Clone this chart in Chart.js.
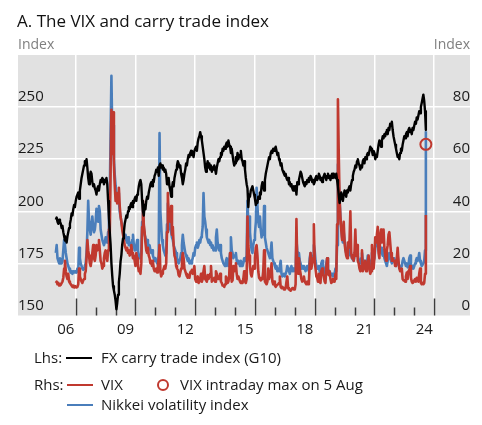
<!DOCTYPE html>
<html>
<head>
<meta charset="utf-8">
<script src="https://cdn.jsdelivr.net/npm/chart.js@4.4.1/dist/chart.umd.min.js"></script>
<style>
  html, body { margin: 0; padding: 0; background: #fff; }
  body { width: 482px; height: 425px; position: relative; overflow: hidden; font-family: "Open Sans", "Noto Sans", sans-serif; color: #1a1a1a; }
  #chart { position: absolute; left: 0; top: 0; }
  .txt { position: absolute; white-space: nowrap; line-height: normal; }
  #title { left: 17px; top: 9px; font-size: 17px; color: #111; }
  .unit { top: 34px; font-size: 14px; color: #7f7f7f; }
  #unitL { left: 18px; }
  #unitR { right: 12px; }
  .leg { font-size: 15px; }
  .swatch { position: absolute; height: 2px; }
  .ring { position: absolute; width: 8px; height: 8px; border: 2px solid #c0392f; border-radius: 50%; }
</style>
</head>
<body>
<canvas id="chart" width="482" height="425"></canvas>
<div id="title" class="txt">A. The VIX and carry trade index</div>
<div id="unitL" class="txt unit">Index</div>
<div id="unitR" class="txt unit">Index</div>

<div class="txt leg" style="left:34px; top:347px;">Lhs:</div>
<div class="swatch" style="left:66px; top:357px; width:26px; background:#000;"></div>
<div class="txt leg" style="left:101px; top:347px;">FX carry trade index (G10)</div>

<div class="txt leg" style="left:34px; top:374px;">Rhs:</div>
<div class="swatch" style="left:67px; top:384px; width:26px; background:#c0392f;"></div>
<div class="txt leg" style="left:101px; top:374px;">VIX</div>
<div class="ring" style="left:157px; top:379px;"></div>
<div class="txt leg" style="left:180px; top:374px;">VIX intraday max on 5 Aug</div>

<div class="swatch" style="left:67px; top:404px; width:26px; background:#4a7ebb;"></div>
<div class="txt leg" style="left:101px; top:394px;">Nikkei volatility index</div>

<script>
const RED = '#c0392f';
const BLUE = '#4a7ebb';
const FONT = '"Open Sans", "Noto Sans", sans-serif';

// two observations per month, first one in Jan 2006, last one on 5 Aug 2024
const startYear = 2006;
const perYear = 24;

// FX carry trade index (G10), lhs
const carryIndex = [
  196,197,195,194,196,195,194,192,193,190,188,186,187,185,188,190,192,194,196,199,198,201,203,202, // 2006
  205,207,208,209,206,210,213,216,218,220,222,224,223,225,221,216,213,217,219,218,214,212,213,211, // 2007
  210,208,211,212,210,213,215,214,216,215,213,215,214,216,213,205,197,190,184,175,169,164,162,160, // 2008
  157,153,156,160,166,170,176,179,184,187,190,194,196,198,197,200,202,201,203,204,202,205,204,206, // 2009
  207,205,208,209,212,214,215,213,205,200,198,203,201,205,207,206,209,211,213,214,212,215,214,217, // 2010
  218,220,219,221,217,222,223,221,222,220,221,219,220,218,213,214,216,212,210,207,211,214,212,216, // 2011
  218,220,222,224,223,221,222,218,216,213,215,218,220,223,222,225,227,226,228,229,227,228,226,229, // 2012
  230,231,229,233,235,236,238,236,234,231,228,225,221,219,222,224,221,223,220,222,219,221,220,222, // 2013
  220,218,221,223,225,224,226,228,227,230,229,231,230,232,233,231,234,232,231,228,230,227,224,222, // 2014
  223,226,224,228,225,227,226,229,225,224,222,224,220,216,213,211,202,208,207,210,211,212,210,208, // 2015
  206,203,205,204,207,206,209,208,212,214,212,210,215,218,220,222,224,226,225,228,229,228,230,229, // 2016
  230,231,229,227,228,225,224,222,223,220,219,218,217,218,216,215,216,213,214,212,213,211,210,212, // 2017
  210,212,208,214,213,215,217,219,218,216,214,213,212,214,213,215,214,216,215,217,216,214,215,213, // 2018
  214,216,217,215,216,218,217,215,216,214,216,217,218,216,215,217,218,216,217,215,217,218,216,218, // 2019
  217,216,218,215,212,208,204,206,209,207,205,208,210,209,207,210,209,211,212,210,213,215,217,219, // 2020
  220,222,221,224,225,223,222,220,222,221,224,225,223,226,225,227,228,227,229,231,230,229,227,229, // 2021
  228,225,227,226,229,232,234,233,231,234,236,235,237,236,238,239,237,240,239,242,241,243,239,236, // 2022
  234,232,230,228,226,227,225,228,230,229,232,234,236,235,237,238,236,239,240,238,239,237,240,239, // 2023
  241,243,242,245,244,246,248,247,250,252,254,256,253,248,239                                      // 2024
];

// VIX, rhs
const vix = [
  12.5,13,12,12.5,11.5,12,11.8,12.5,13,14.5,18,21,17,15,14,16,13,12.5,12,11.5,11,11.5,10.8,11.3, // 2006
  11,10.8,11,12,18,15,14,13,12.5,13.5,14,16,17,22,29,25,23,20,19,21,24,27,22,21,                  // 2007
  23,27,25,26,29,25,21,20,18,19,22,24,25,22,21,25,33,31,55,79,62,78,58,50,                        // 2008
  44,47,43,46,49,42,38,36,33,31,29,27,26,25,26,24,25,23,24,27,24,22,23,21,                        // 2009
  19,24,22,19,17,17.5,16,20,34,44,35,32,28,25,24,26,23,22,20,21,19,21,18,17,                      // 2010
  17,18,16.5,19,22,27,17,15,16,17,18,19,18,20,32,47,38,41,36,42,31,34,27,23,                      // 2011
  22,19,18,17.5,15.5,15,16.5,18,21,24,22,18,17,16,15,14.5,15.5,14.5,16.5,17,17.5,16,17,19,        // 2012
  14,13,13.5,15,12.5,13,14,16,13,14,17,19,14,13.5,13,15.5,14,15,16,19,13,13.5,13.8,14.5,          // 2013
  13,17,16,14,15,14,16,13,12.5,11.5,11.5,11,12,15,14,12.5,13,15.5,24,16,13,13.5,19,17,            // 2014
  19,20,16,14,15,14,13,12.5,13,12.5,14,17,13,12.5,14,38,27,23,19,16,15,17,19,18,                  // 2015
  22,26,27,23,17,14.5,14,13.5,14.5,14,17,25,13,12.5,12,13,18,14,14,16,20,13,12,13,                // 2016
  11.5,11,11.5,11.8,12,12.5,15,11,10.5,11,10.5,10,10,10.5,13,15,10.5,10,10,9.5,10,10.5,10.5,10,   // 2017
  10,12,37,19,16,22,18,16,14,13,13.5,15,13,12.5,12,13,12,12.5,20,24,18,20,22,35,                  // 2018
  21,18,15,14.5,13,16,13,12.5,17,18,16,15,13,12.5,18,22,16,15.5,17,14,12.5,13,14,13.5,            // 2019
  13,16,14,35,83,62,45,38,33,29,30,36,28,25,23,22,28,26,29,40,24,22,23,21,                        // 2020
  24,33,23,27,21,20,18,17,19,25,17,18,19,21,17,19,20,23,18,16,17,27,22,18,                        // 2021
  22,30,28,31,34,24,22,31,33,28,29,33,26,23,21,25,27,31,32,28,24,21,22,21,                        // 2022
  21,19,20,22,26,21,18,17,17,18,14,13.5,13.5,13,15,16.5,14,17,17.5,19,14.5,13,12.5,12.8,          // 2023
  13.5,14,13,14.5,13.5,13,16,18,12.5,12,12.5,12,12.5,16,38.6                                      // 2024
];

// Nikkei volatility index, rhs
const nikkeiVol = [
  24,27,22,21,20,22,21,20,21,25,29,27,24,22,20,19,18,17,16.5,17,16,17,16.5,17,                    // 2006
  17,16.5,18,17,26,22,20,19,18,17.5,18,19,20,24,32,44,36,33,31,35,38,34,32,33,                    // 2007
  36,41,38,36,42,40,33,31,29,28,27,28,30,29,28,32,41,45,70,92,70,73,60,54,                        // 2008
  50,47,45,47,44,40,38,36,34,32,30,29,31,29,28,30,27,28,27,26,29,31,27,25,                        // 2009
  25,27,29,25,23,22,22,24,36,43,34,31,30,28,29,27,26,27,25,24,25,23,22,21,                        // 2010
  22,21,20,21,23,70,40,34,29,27,25,24,23,24,35,43,38,36,33,32,30,29,27,26,                        // 2011
  25,24,22,21,20,21,22,24,27,31,28,26,24,23,22,21,22,20,21,20,21,22,24,23,                        // 2012
  26,27,28,26,27,29,28,30,31,34,47,38,36,33,30,29,28,29,27,28,26,27,25,26,                        // 2013
  25,30,33,28,26,25,27,24,22,21,20,19.5,19,21,22,20,19,21,24,30,25,24,22,23,                      // 2014
  23,24,21,20,21,20,19,21,20,19,20,22,21,22,23,44,35,38,32,28,25,24,27,29,                        // 2015
  31,36,49,42,36,34,38,33,30,32,31,42,30,28,26,25,24,23,22,24,28,22,21,20,                        // 2016
  19,18,19,17,18,17,19,21,16,15,15.5,16,15,16,17,19,18,17,16,18,19,17,18,17,                      // 2017
  18,17,29,25,22,24,21,20,18,19,18,19,18,17,18,19,18,17,22,24,21,22,23,27,                        // 2018
  25,21,19,18,18,19,17,16,20,21,19,18,17,16,20,22,18,17,17,16,15.5,16,15,15.5,                    // 2019
  16,18,17,27,58,52,44,38,34,30,28,32,29,26,24,23,24,23,24,26,23,22,22,21,                        // 2020
  23,25,27,24,23,21,21,20,22,24,21,20,21,20,19,20,23,22,21,20,19,24,23,21,                        // 2021
  22,26,27,28,31,25,24,25,26,24,23,25,22,21,20,19,21,23,24,22,21,20,21,22,                        // 2022
  22,20,19,20,23,20,19,18,18.5,19,21,22,21,20,19,20,18.5,19,22,23,20,18,19,18,                    // 2023
  19,20,21,22,21,22,24,21,20,19,19.5,20,21,25,70.7                                                // 2024
];

const vixIntradayMax = 65.7;   // 5 Aug 2024

const leftTicks = [150, 175, 200, 225, 250];
const rightTicks = [0, 20, 40, 60, 80];
const labelYears = [2006, 2009, 2012, 2015, 2018, 2021, 2024];
const yearLabels = ['06', '09', '12', '15', '18', '21', '24'];
const gridYears = [2007, 2010, 2013, 2016, 2019, 2022, 2025];
const tickYears = [2007, 2008, 2009, 2010, 2011, 2012, 2013, 2014, 2015, 2016, 2017, 2018, 2019, 2020, 2021, 2022, 2023, 2024, 2025];

const xMin = 2004.1, xMax = 2026.8;

const dates = carryIndex.map((_, i) => startYear + i / perYear);
const toPoints = arr => arr.map((v, i) => ({ x: dates[i], y: v }));

const plotBg = {
  id: 'plotBg',
  beforeDraw(chart) {
    const { ctx, chartArea: { left, top, width, height } } = chart;
    ctx.save();
    ctx.fillStyle = '#e1e1e1';
    ctx.fillRect(left, top, width, height);
    ctx.restore();
  }
};

// year ticks standing up from the bottom of the plot
const yearTicks = {
  id: 'yearTicks',
  beforeDatasetsDraw(chart) {
    const { ctx, chartArea, scales } = chart;
    ctx.save();
    ctx.strokeStyle = '#3d3d3d';
    ctx.lineWidth = 1.5;
    tickYears.forEach(yr => {
      const px = Math.round(scales.xg.getPixelForValue(yr)) + 0.5;
      const len = gridYears.includes(yr) ? 17 : 8;
      ctx.beginPath();
      ctx.moveTo(px, chartArea.bottom);
      ctx.lineTo(px, chartArea.bottom - len);
      ctx.stroke();
    });
    ctx.restore();
  }
};

const lineDs = (label, data, color, axis, width) => ({
  label, data, yAxisID: axis, xAxisID: 'x',
  borderColor: color, borderWidth: width, pointRadius: 0, tension: 0,
  borderJoinStyle: 'round', fill: false
});

new Chart(document.getElementById('chart'), {
  type: 'line',
  data: {
    datasets: [
      {
        label: 'VIX intraday max on 5 Aug',
        data: [{ x: dates[vix.length - 1], y: vixIntradayMax }],
        xAxisID: 'x', yAxisID: 'y1', showLine: false,
        pointRadius: 5.5, pointBorderWidth: 2,
        pointBorderColor: RED, pointBackgroundColor: 'rgba(0,0,0,0)'
      },
      lineDs('FX carry trade index (G10)', toPoints(carryIndex), '#000000', 'y', 2.4),
      lineDs('VIX', toPoints(vix), RED, 'y1', 2.6),
      lineDs('Nikkei volatility index', toPoints(nikkeiVol), BLUE, 'y1', 2.6)
    ]
  },
  options: {
    responsive: false,
    animation: false,
    layout: { padding: { left: 18, right: 12, top: 55, bottom: 79.5 } },
    plugins: { legend: { display: false }, tooltip: { enabled: false } },
    scales: {
      x: {
        type: 'linear', position: 'bottom', min: xMin, max: xMax,
        afterBuildTicks: s => { s.ticks = labelYears.map(v => ({ value: v + 0.5 })); },
        ticks: {
          autoSkip: false, maxRotation: 0, padding: 5, color: '#1a1a1a',
          font: { family: FONT, size: 15 },
          callback: (v, i) => yearLabels[i]
        },
        grid: { display: false, drawTicks: false },
        border: { display: false },
        afterFit: s => { s.height = 30; }
      },
      xg: {
        type: 'linear', position: 'bottom', min: xMin, max: xMax,
        afterBuildTicks: s => { s.ticks = gridYears.map(v => ({ value: v })); },
        ticks: { display: false },
        grid: { color: '#ffffff', lineWidth: 1.5, drawTicks: false },
        border: { display: false },
        afterFit: s => { s.height = 0; }
      },
      y: {
        type: 'linear', position: 'left', min: 150, max: 275,
        afterBuildTicks: s => { s.ticks = leftTicks.map(v => ({ value: v })); },
        ticks: { mirror: true, padding: 0, labelOffset: -10, color: '#1a1a1a', font: { family: FONT, size: 15 } },
        grid: {
          color: c => (c.tick && c.tick.value === 150) ? 'rgba(0,0,0,0)' : '#ffffff',
          lineWidth: 1.5, drawTicks: false
        },
        border: { display: false },
        afterFit: s => { s.width = 0; }
      },
      y1: {
        type: 'linear', position: 'right', min: 0, max: 100,
        afterBuildTicks: s => { s.ticks = rightTicks.map(v => ({ value: v })); },
        ticks: { mirror: true, padding: 0, labelOffset: -10, color: '#1a1a1a', font: { family: FONT, size: 15 } },
        grid: { display: false, drawTicks: false },
        border: { display: false },
        afterFit: s => { s.width = 0; }
      }
    }
  },
  plugins: [plotBg, yearTicks]
});
</script>
</body>
</html>
